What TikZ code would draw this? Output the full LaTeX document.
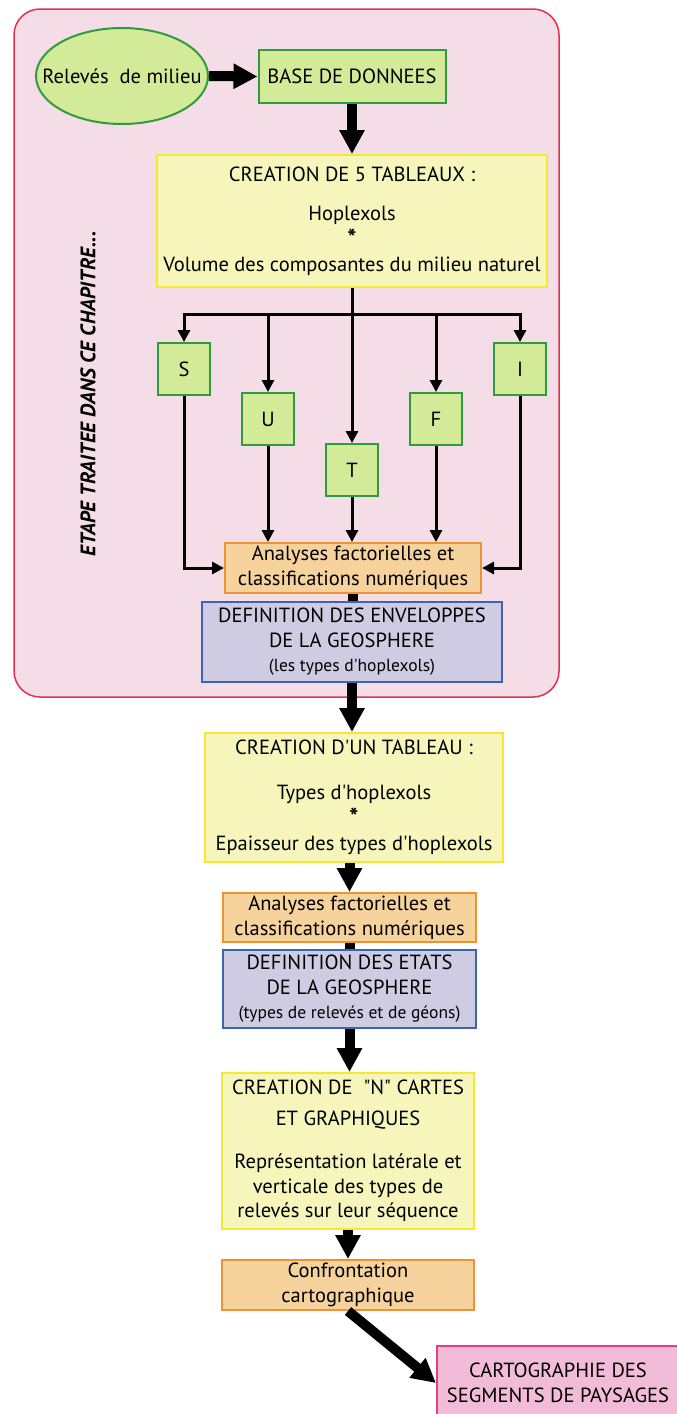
\documentclass[tikz,border=0pt]{standalone}
\usepackage{fontspec}
\setmainfont{PT Sans}
\usetikzlibrary{arrows.meta,shapes.geometric}
\definecolor{bgpink}{HTML}{F4DDE7}
\definecolor{bgred}{HTML}{E5304D}
\definecolor{gfill}{HTML}{D3EB99}
\definecolor{gdraw}{HTML}{2F9B3E}
\definecolor{yfill}{HTML}{F5F5BC}
\definecolor{ydraw}{HTML}{F3E832}
\definecolor{ofill}{HTML}{F6D39D}
\definecolor{odraw}{HTML}{EE9332}
\definecolor{bfill}{HTML}{CFCBE2}
\definecolor{bdraw}{HTML}{3E63B2}
\definecolor{pfill}{HTML}{F2BCD9}
\definecolor{pdraw}{HTML}{E93A8E}
\begin{document}
\begin{tikzpicture}[x=1pt,y=-1pt,
  font=\fontsize{20.5}{24.5}\selectfont,
  box/.style={draw, line width=2pt, rectangle, inner sep=0pt, align=center},
  greenbox/.style={box, fill=gfill, draw=gdraw},
  yellowbox/.style={box, fill=yfill, draw=ydraw},
  orangebox/.style={box, fill=ofill, draw=odraw},
  bluebox/.style={box, fill=bfill, draw=bdraw},
  pinkbox/.style={box, fill=pfill, draw=pdraw},
  letterbox/.style={greenbox, minimum width=52pt, minimum height=52pt},
  thickarrow/.style={line width=10pt, -{Triangle[width=24pt,length=24pt]}},
  thickline/.style={line width=10pt},
  thinarrow/.style={line width=3pt, -{Triangle[width=12pt,length=12pt]}}
]
\newcommand{\smallsz}{\fontsize{17.5}{24}\selectfont}
\newcommand{\starmark}{{\fontsize{24}{24}\selectfont\bfseries\raisebox{-5pt}{*}}}
\useasboundingbox (0,0) rectangle (677,1414);
\fill[white] (0,0) rectangle (677,1414);

% background panel
\draw[fill=bgpink, draw=bgred, line width=1.5pt, rounded corners=26pt] (14,9) rectangle (559,697);
\node[rotate=90, font=\fontsize{21}{24}\selectfont\bfseries\itshape] (etape) at (88,394) {ETAPE TRAITEE DANS CE CHAPITRE...};

% nodes
\node[ellipse, draw=gdraw, fill=gfill, line width=2pt, minimum width=172pt, minimum height=96pt, inner xsep=-34pt, inner ysep=0pt] (releves) at (122,76) {Relevés\ \ de milieu};
\node[greenbox, minimum width=187pt, minimum height=53pt] (base) at (352,76.5) {BASE DE DONNEES};
\node[yellowbox, minimum width=390pt, minimum height=132pt] (crea5) at (352,221) {CREATION DE 5 TABLEAUX :\\[14pt] Hoplexols\\[-3pt] \starmark\\[5pt] Volume des composantes du milieu naturel};
\node[letterbox] (S) at (184,369) {S};
\node[letterbox] (U) at (268,419) {U};
\node[letterbox] (T) at (352,470) {T};
\node[letterbox] (F) at (436,419) {F};
\node[letterbox] (I) at (520,369) {I};
\node[orangebox, minimum width=256pt, minimum height=50pt] (ana1) at (353,568) {Analyses factorielles et\\ classifications numériques};
\node[bluebox, minimum width=300pt, minimum height=80pt] (def1) at (352,642) {DEFINITION DES ENVELOPPES\\ DE LA GEOSPHERE\\ {\smallsz (les types d\textquotesingle hoplexols)}};

\node[yellowbox, minimum width=298pt, minimum height=129pt] (crea1) at (354,797.5) {CREATION D\textquotesingle UN TABLEAU :\\[20pt] Types d\textquotesingle hoplexols\\[-3pt] \starmark\\[5pt] Epaisseur des types d\textquotesingle hoplexols};
\node[orangebox, minimum width=253pt, minimum height=49pt] (ana2) at (349.5,917.5) {Analyses factorielles et\\ classifications numériques};
\node[bluebox, minimum width=253pt, minimum height=78pt] (def2) at (349.5,989) {DEFINITION DES ETATS\\ DE LA GEOSPHERE\\ {\smallsz (types de relevés et de géons)}};
\node[yellowbox, minimum width=252pt, minimum height=156pt] (creaN) at (348,1151) {CREATION DE\ \ \textquotedbl N\textquotedbl\ CARTES\\[6pt] ET GRAPHIQUES\\[19pt] Représentation latérale et\\ verticale des types de\\ relevés sur leur séquence};
\node[orangebox, minimum width=252pt, minimum height=50pt] (conf) at (348,1285) {Confrontation\\ cartographique};
\node[pinkbox, minimum width=242pt, minimum height=74pt] (carto) at (558,1383) {CARTOGRAPHIE DES\\ SEGMENTS DE PAYSAGES};

% connectors
\draw[thickarrow] (releves.east) -- (base.west);
\draw[thickarrow] (base.south) -- (crea5.north);
\coordinate (bar) at (352,314);
\draw[thinarrow] (crea5.south) -- (T.north);
\draw[thinarrow] (bar) -| (S.north);
\draw[thinarrow] (bar) -| (U.north);
\draw[thinarrow] (bar) -| (F.north);
\draw[thinarrow] (bar) -| (I.north);
\draw[thinarrow] (S.south) |- (ana1.west);
\draw[thinarrow] (I.south) |- (ana1.east);
\draw[thinarrow] (U.south) -- (U.south |- ana1.north);
\draw[thinarrow] (T.south) -- (T.south |- ana1.north);
\draw[thinarrow] (F.south) -- (F.south |- ana1.north);
\draw[thickline] (ana1.south) -- (ana1.south |- def1.north);
\draw[thickarrow] (def1.south) -- (def1.south |- crea1.north);
\draw[thickarrow] (crea1.south -| ana2.north) -- (ana2.north);
\draw[thickline] (ana2.south) -- (def2.north);
\draw[thickarrow] (def2.south) -- (def2.south |- creaN.north);
\draw[thickarrow] (creaN.south) -- (conf.north);
\draw[thickarrow] (conf.south) -- (carto.west);
\end{tikzpicture}
\end{document}
